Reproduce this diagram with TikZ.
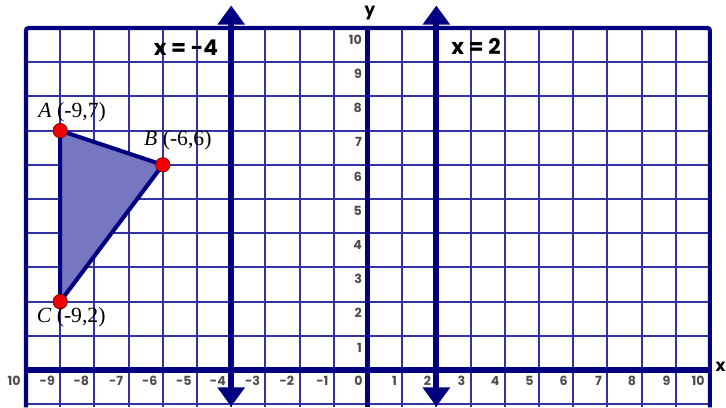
\documentclass[tikz,border=0pt]{standalone}
\usepackage{fontspec}
\setmainfont{Liberation Serif}
\newfontfamily\gothic{Poppins}
\usetikzlibrary{arrows.meta}
\definecolor{gridblue}{RGB}{50,50,165}
\definecolor{mynavy}{RGB}{0,0,128}
\definecolor{trifill}{RGB}{118,118,194}
\definecolor{ptred}{RGB}{240,0,0}
\newcommand\mytick[1]{%
  {\gothic\bfseries\fontsize{10.5}{10.5}\selectfont #1}%
}
\newcommand\myaxis[1]{%
  {\gothic\bfseries\fontsize{14}{14}\selectfont #1}%
}
\newcommand\myline[1]{%
  {\gothic\bfseries\fontsize{18}{18}\selectfont #1}%
}
\newcommand\mypt[2]{%
  {\fontsize{18}{18}\selectfont\textit{#1} #2}%
}

\begin{document}
\begin{tikzpicture}
  \useasboundingbox (-10.76,-1.09) rectangle (10.47,10.82);

  \tikzstyle{thin grid}=[gridblue,line width=1.7pt]
  \tikzstyle{frame}=[mynavy,line width=3.4pt,rounded corners=2pt]
  \tikzstyle{axis}=[mynavy,line width=4.2pt]
  \tikzstyle{mirror}=[mynavy,line width=5pt,{Triangle[width=22pt,length=16pt]}-{Triangle[width=22pt,length=16pt]}]
  \tikzstyle{tick}=[anchor=east,inner sep=0pt,text=black!70]
  \tikzstyle{dot}=[circle,fill=ptred,draw=red!50!black,line width=0.6pt,minimum size=12pt,inner sep=0pt]

  \draw[thin grid] (-10,-1.09) grid (10,10);

  % the triangle
  \coordinate (A) at (-9,7);
  \coordinate (B) at (-6,6);
  \coordinate (C) at (-9,2);
  \fill[trifill] (A) -- (B) -- (C) -- cycle;

  % numbers on the axes
  \node[tick] (xt-10) at (-10.15,-0.32) {\mytick{10}};
  \foreach \x in {-9,...,10}
    \node[tick] (xt\x) at (\x-0.15,-0.32) {\mytick{\x}};
  \foreach \y in {1,...,10}
    \node[tick] (yt\y) at (-0.17,\y-0.34) {\mytick{\y}};

  \draw[axis] (-10,0) -- (10,0);
  \draw[axis] (0,-1.09) -- (0,10);
  \draw[frame] (-10,-1.09) -- (-10,10) -- (10,10) -- (10,-1.09);
  \node[inner sep=0pt] (ylab) at (0.06,10.45) {\myaxis{y}};
  \node[anchor=west,inner sep=0pt] (xlab) at (10.16,0.1) {\myaxis{x}};

  % the two lines
  \coordinate (m4top) at (-4,10.66);
  \coordinate (m4bot) at (-4,-1.07);
  \coordinate (p2top) at (2,10.66);
  \coordinate (p2bot) at (2,-1.07);
  \draw[mirror] (m4bot) -- (m4top);
  \draw[mirror] (p2bot) -- (p2top);
  \node (m4lab) at (-5.32,9.42) {\myline{x = -4}};
  \node (p2lab) at (3.16,9.46) {\myline{x = 2}};

  \draw[mynavy,line width=3.4pt,line join=round] (A) -- (B) -- (C) -- cycle;
  \foreach \p in {A,B,C}
    \node[dot] (dot\p) at (\p) {};

  \node (Alab) at (-8.65,7.54) {\mypt{A}{(-9,7)}};
  \node (Blab) at (-5.56,6.73) {\mypt{B}{(-6,6)}};
  \node (Clab) at (-8.68,1.55) {\mypt{C}{(-9,2)}};
\end{tikzpicture}
\end{document}
